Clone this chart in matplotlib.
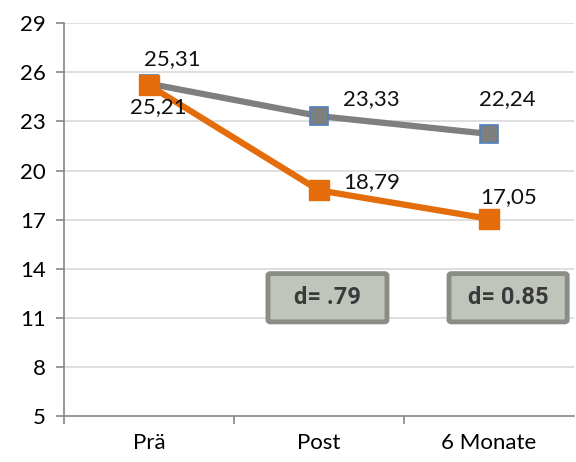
import matplotlib
matplotlib.use("Agg")
import matplotlib.pyplot as plt
from matplotlib.patches import FancyBboxPatch

categories = ["Prä", "Post", "6 Monate"]
gray_values = [25.31, 23.33, 22.24]
orange_values = [25.21, 18.79, 17.05]
gray_labels = ["25,31", "23,33", "22,24"]
orange_labels = ["25,21", "18,79", "17,05"]
y_ticks = [5, 8, 11, 14, 17, 20, 23, 26, 29]
effect_texts = ["d= .79", "d= 0.85"]

plt.rcParams["font.family"] = ["Lato", "DejaVu Sans"]

fig = plt.figure(figsize=(5.76, 4.62), dpi=100)
ax = fig.add_axes([0.111, 0.0996, 0.8855, 0.85])

x = list(range(len(categories)))
GRAY = "#7f7f7f"
ORANGE = "#e46c0a"

ax.plot(x, gray_values, color=GRAY, lw=4.5, marker="s", ms=13,
        markerfacecolor=GRAY, markeredgecolor="#4f81bd", markeredgewidth=1.2, zorder=3)
ax.plot(x, orange_values, color=ORANGE, lw=4.5, marker="s", ms=14,
        markerfacecolor=ORANGE, markeredgecolor=ORANGE, zorder=4)

ax.set_xlim(-0.5, 2.5)
ax.set_ylim(5, 29)
ax.set_yticks(y_ticks)
ax.set_yticklabels([str(t) for t in y_ticks])
ax.set_xticks([-0.5, 0.5, 1.5], minor=False)
ax.set_xticklabels([])
ax.set_xticks(x, minor=True)
ax.set_xticklabels(categories, minor=True)
ax.tick_params(axis="x", which="minor", length=0, pad=12, labelsize=16)
ax.tick_params(axis="x", which="major", length=6, width=1.2, color="#868686", direction="out")
ax.tick_params(axis="y", length=6, width=1.2, color="#868686", labelsize=16, pad=7)

for v in y_ticks[1:]:
    ax.axhline(v, color="#d9d9d9", lw=1.2, zorder=0)

for s in ["top", "right"]:
    ax.spines[s].set_visible(False)
for s in ["left", "bottom"]:
    ax.spines[s].set_color("#868686")
    ax.spines[s].set_linewidth(1.2)

# value labels (offsets in points)
gray_offsets = [(17, 18), (38, 12), (13, 25)]
orange_offsets = [(7, -16), (38, 6), (14, 16)]
for xi, v, lab, off in zip(x, gray_values, gray_labels, gray_offsets):
    ax.annotate(lab, (xi, v), xytext=off, textcoords="offset points",
                ha="center", va="center", fontsize=16, color="#111111", zorder=5)
for xi, v, lab, off in zip(x, orange_values, orange_labels, orange_offsets):
    ax.annotate(lab, (xi, v), xytext=off, textcoords="offset points",
                ha="center", va="center", fontsize=16, color="#111111", zorder=5)

# effect size boxes (data coordinates)
box_x0 = [0.70, 1.765]
box_x1 = [1.40, 2.46]
box_y0, box_y1 = 10.75, 13.7
for x0, x1, txt in zip(box_x0, box_x1, effect_texts):
    patch = FancyBboxPatch((x0, box_y0), x1 - x0, box_y1 - box_y0,
                           boxstyle="round,pad=0,rounding_size=0.015",
                           mutation_aspect=8, facecolor="#c0c5bb",
                           edgecolor="#8a8d86", linewidth=3.5, zorder=6)
    ax.add_patch(patch)
    ax.text((x0 + x1) / 2, (box_y0 + box_y1) / 2, txt, ha="center", va="center",
            fontsize=17, fontweight="bold", family=["Roboto", "DejaVu Sans"],
            color="#3a3a3a", zorder=7)

fig.savefig("out.png", dpi=100)
